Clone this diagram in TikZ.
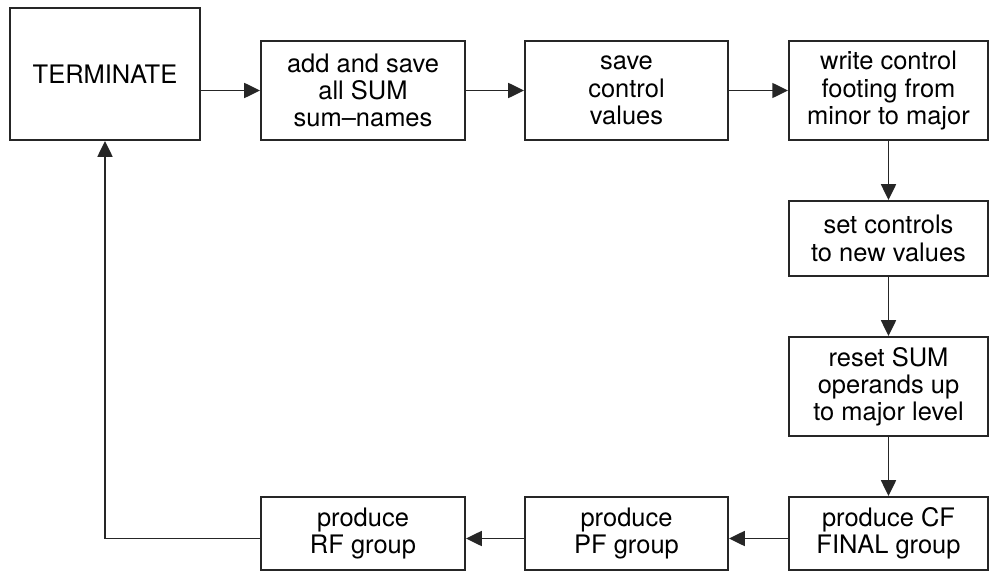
\documentclass[tikz,border=0pt]{standalone}
\usepackage{fontspec}
\setmainfont{TeX Gyre Heros}
\usetikzlibrary{arrows.meta}
\tikzset{
  stepbox/.style={draw=black!85, line width=1.1pt, align=center, inner sep=0pt,
    font=\fontsize{14.5}{15.5}\selectfont},
  flow/.style={-{Triangle[length=9pt,width=8.5pt]}, line width=1.1pt, draw=black!85}
}
\begin{document}
\begin{tikzpicture}[x=0.02cm, y=-0.02cm]
\useasboundingbox (0,0) rectangle (990,571);

% top row
\node [stepbox, minimum width=3.8cm, minimum height=2.64cm] (term) at (105,74) {TERMINATE};
\node [stepbox, minimum width=4.08cm, minimum height=1.98cm] (addsave) at (363,90.5) {add and save\\all SUM\\sum--names};
\node [stepbox, minimum width=4.06cm, minimum height=1.98cm] (savectl) at (626.5,90.5) {save\\control\\values};
\node [stepbox, minimum width=3.98cm, minimum height=1.98cm] (writectl) at (888.5,90.5) {write control\\footing from\\minor to major};

% right column
\node [stepbox, minimum width=3.98cm, minimum height=1.5cm] (setctl) at (888.5,238.5) {set controls\\to new values};
\node [stepbox, minimum width=3.98cm, minimum height=1.98cm] (resetsum) at (888.5,386.5) {reset SUM\\operands up\\to major level};

% bottom row
\node [stepbox, minimum width=3.98cm, minimum height=1.46cm] (cfgroup) at (888.5,533.5) {produce CF\\FINAL group};
\node [stepbox, minimum width=4.06cm, minimum height=1.46cm] (pfgroup) at (626.5,533.5) {produce\\PF group};
\node [stepbox, minimum width=4.08cm, minimum height=1.46cm] (rfgroup) at (363,533.5) {produce\\RF group};

\draw [flow] (term.east |- addsave) -- (addsave);
\draw [flow] (addsave) -- (savectl);
\draw [flow] (savectl) -- (writectl);
\draw [flow] (writectl) -- (setctl);
\draw [flow] (setctl) -- (resetsum);
\draw [flow] (resetsum) -- (cfgroup);
\draw [flow] ([yshift=-0.1cm]cfgroup.west) -- ([yshift=-0.1cm]pfgroup.east);
\draw [flow] ([yshift=-0.1cm]pfgroup.west) -- ([yshift=-0.1cm]rfgroup.east);

% back to the start
\draw [flow] ([yshift=-0.1cm]rfgroup.west) -| (term.south);

\end{tikzpicture}
\end{document}
